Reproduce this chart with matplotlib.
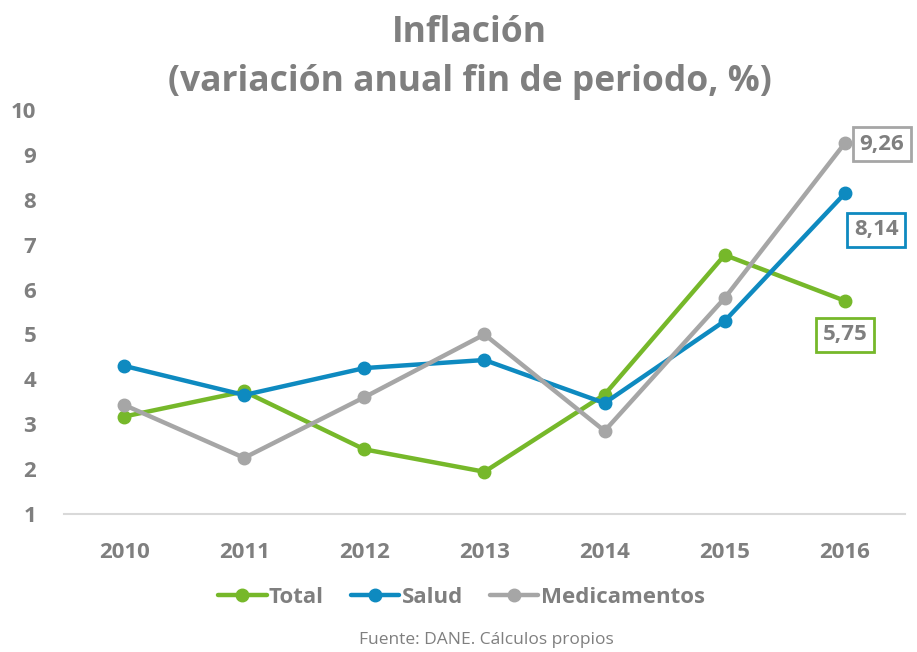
import matplotlib.pyplot as plt

plt.rcParams['font.family'] = ['Open Sans', 'DejaVu Sans']

years = ["2010", "2011", "2012", "2013", "2014", "2015", "2016"]
total = [3.17, 3.73, 2.44, 1.94, 3.66, 6.77, 5.75]
salud = [4.30, 3.65, 4.25, 4.43, 3.47, 5.30, 8.14]
medicamentos = [3.43, 2.25, 3.60, 5.00, 2.85, 5.81, 9.26]

c_total = "#76b82a"
c_salud = "#0e8ac0"
c_med = "#a6a6a6"
txt = "#7f7f7f"

fig = plt.figure(figsize=(9.17, 6.52), dpi=100)
ax = fig.add_axes([0.0698, 0.2117, 0.917, 0.6196])

x = range(len(years))
series = [("Total", total, c_total), ("Salud", salud, c_salud), ("Medicamentos", medicamentos, c_med)]
for name, vals, col in series:
    ax.plot(x, vals, color=col, lw=3.2, marker="o", ms=9, label=name, solid_capstyle="round")

ax.set_xlim(-0.5, 6.5)
ax.set_ylim(1, 10)
ax.set_yticks(range(1, 11))
ax.set_xticks(list(x))
ax.set_xticklabels(years)
for s in ["top", "right", "left"]:
    ax.spines[s].set_visible(False)
ax.spines["bottom"].set_color("#d9d9d9")
ax.spines["bottom"].set_linewidth(1.5)
ax.tick_params(length=0, labelsize=16, colors=txt)
ax.tick_params(axis="x", pad=20)
ax.tick_params(axis="y", pad=20)
for lab in ax.get_xticklabels() + ax.get_yticklabels():
    lab.set_fontweight("bold")

# last-year value labels
offsets = {"Total": (0.0, -0.76), "Salud": (0.26, -0.81), "Medicamentos": (0.31, -0.02)}
for name, vals, col in series:
    dx, dy = offsets[name]
    ax.text(6 + dx, vals[-1] + dy, f"{vals[-1]:.2f}".replace(".", ","), ha="center", va="center",
            fontsize=16, fontweight="bold", color=txt,
            bbox=dict(boxstyle="square,pad=0.3", fc="white", ec=col, lw=2))

fig.text(0.512, 0.95, "Inflación", ha="center", va="center", fontsize=25.5, fontweight="bold", color=txt)
fig.text(0.512, 0.874, "(variación anual fin de periodo, %)", ha="center", va="center",
         fontsize=25.5, fontweight="bold", color=txt)

leg = fig.legend(loc="center", bbox_to_anchor=(0.503, 0.084), ncol=3, frameon=False,
                 fontsize=16, handlelength=2.2, columnspacing=1.2, handletextpad=0.1)
for t in leg.get_texts():
    t.set_color(txt)
    t.set_fontweight("bold")

fig.text(0.53, 0.018, "Fuente: DANE. Cálculos propios", ha="center", va="center", fontsize=12.5, color=txt)

fig.savefig("out.png", dpi=100)
